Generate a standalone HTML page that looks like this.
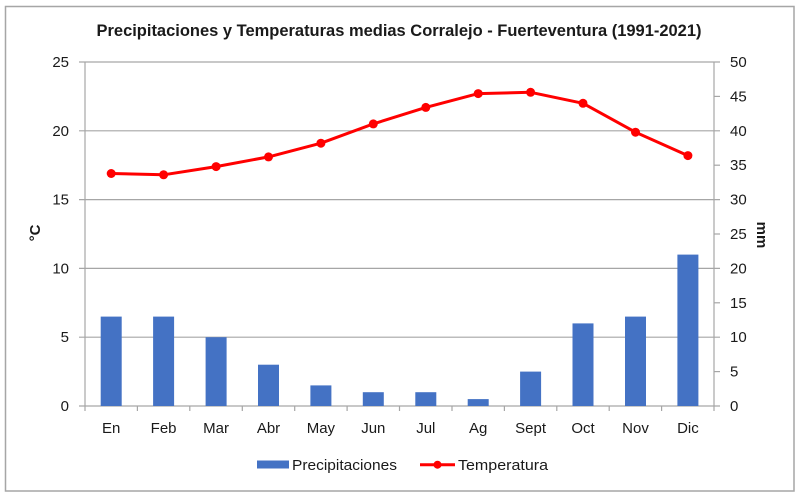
<!DOCTYPE html>
<html><head><meta charset="utf-8"><style>
html,body{margin:0;padding:0;background:#fff;}
svg{display:block;}
text{font-family:"Liberation Sans",sans-serif;fill:#1a1a1a;}
</style></head><body>
<svg width="800" height="496" viewBox="0 0 800 496" xmlns="http://www.w3.org/2000/svg">
<rect x="0" y="0" width="800" height="496" fill="#fff"/>
<rect x="5.5" y="6.5" width="788.5" height="484.5" fill="none" stroke="#A6A6A6" stroke-width="1.5"/>
<text x="399" y="36" font-size="16.5" font-weight="bold" text-anchor="middle" textLength="605" lengthAdjust="spacingAndGlyphs">Precipitaciones y Temperaturas medias Corralejo - Fuerteventura (1991-2021)</text>
<!-- gridlines -->
<g stroke="#A6A6A6" stroke-width="1.2">
<line x1="79" y1="62" x2="720" y2="62"/>
<line x1="79" y1="130.8" x2="720" y2="130.8"/>
<line x1="79" y1="199.6" x2="720" y2="199.6"/>
<line x1="79" y1="268.4" x2="720" y2="268.4"/>
<line x1="79" y1="337.2" x2="720" y2="337.2"/>
<line x1="79" y1="406" x2="720" y2="406"/>
<line x1="85" y1="62" x2="85" y2="406"/>
<line x1="714" y1="62" x2="714" y2="411"/>
<line x1="714" y1="96.4" x2="720" y2="96.4"/>
<line x1="714" y1="165.2" x2="720" y2="165.2"/>
<line x1="714" y1="234" x2="720" y2="234"/>
<line x1="714" y1="302.8" x2="720" y2="302.8"/>
<line x1="714" y1="371.6" x2="720" y2="371.6"/>
<line x1="85" y1="406" x2="85" y2="411"/>
<line x1="137.4" y1="406" x2="137.4" y2="411"/>
<line x1="189.8" y1="406" x2="189.8" y2="411"/>
<line x1="242.3" y1="406" x2="242.3" y2="411"/>
<line x1="294.7" y1="406" x2="294.7" y2="411"/>
<line x1="347.1" y1="406" x2="347.1" y2="411"/>
<line x1="399.5" y1="406" x2="399.5" y2="411"/>
<line x1="452" y1="406" x2="452" y2="411"/>
<line x1="504.4" y1="406" x2="504.4" y2="411"/>
<line x1="556.8" y1="406" x2="556.8" y2="411"/>
<line x1="609.2" y1="406" x2="609.2" y2="411"/>
<line x1="661.6" y1="406" x2="661.6" y2="411"/>
</g>
<!-- bars -->
<g fill="#4472C4">
<rect x="100.7" y="316.6" width="21" height="89.4"/>
<rect x="153.1" y="316.6" width="21" height="89.4"/>
<rect x="205.6" y="337.2" width="21" height="68.8"/>
<rect x="258" y="364.7" width="21" height="41.3"/>
<rect x="310.4" y="385.4" width="21" height="20.6"/>
<rect x="362.8" y="392.2" width="21" height="13.8"/>
<rect x="415.3" y="392.2" width="21" height="13.8"/>
<rect x="467.7" y="399.1" width="21" height="6.9"/>
<rect x="520.1" y="371.6" width="21" height="34.4"/>
<rect x="572.5" y="323.4" width="21" height="82.6"/>
<rect x="625" y="316.6" width="21" height="89.4"/>
<rect x="677.4" y="254.6" width="21" height="151.4"/>
</g>
<!-- line -->
<polyline fill="none" stroke="#FF0000" stroke-width="3" stroke-linejoin="round" points="111.2,173.5 163.6,174.8 216.1,166.6 268.5,156.9 320.9,143.2 373.3,123.9 425.8,107.4 478.2,93.6 530.6,92.3 583,103.3 635.5,132.2 687.9,155.6"/>
<g fill="#FF0000">
<circle cx="111.2" cy="173.5" r="4.5"/>
<circle cx="163.6" cy="174.8" r="4.5"/>
<circle cx="216.1" cy="166.6" r="4.5"/>
<circle cx="268.5" cy="156.9" r="4.5"/>
<circle cx="320.9" cy="143.2" r="4.5"/>
<circle cx="373.3" cy="123.9" r="4.5"/>
<circle cx="425.8" cy="107.4" r="4.5"/>
<circle cx="478.2" cy="93.6" r="4.5"/>
<circle cx="530.6" cy="92.3" r="4.5"/>
<circle cx="583" cy="103.3" r="4.5"/>
<circle cx="635.5" cy="132.2" r="4.5"/>
<circle cx="687.9" cy="155.6" r="4.5"/>
</g>
<!-- left labels -->
<g font-size="15" text-anchor="end">
<text x="69" y="67">25</text>
<text x="69" y="135.8">20</text>
<text x="69" y="204.6">15</text>
<text x="69" y="273.4">10</text>
<text x="69" y="342.2">5</text>
<text x="69" y="411">0</text>
</g>
<g font-size="15" text-anchor="start">
<text x="730" y="67">50</text>
<text x="730" y="101.4">45</text>
<text x="730" y="135.8">40</text>
<text x="730" y="170.2">35</text>
<text x="730" y="204.6">30</text>
<text x="730" y="239">25</text>
<text x="730" y="273.4">20</text>
<text x="730" y="307.8">15</text>
<text x="730" y="342.2">10</text>
<text x="730" y="376.6">5</text>
<text x="730" y="411">0</text>
</g>
<g font-size="15" text-anchor="middle">
<text x="111.2" y="433">En</text>
<text x="163.6" y="433">Feb</text>
<text x="216.1" y="433">Mar</text>
<text x="268.5" y="433">Abr</text>
<text x="320.9" y="433">May</text>
<text x="373.3" y="433">Jun</text>
<text x="425.8" y="433">Jul</text>
<text x="478.2" y="433">Ag</text>
<text x="530.6" y="433">Sept</text>
<text x="583" y="433">Oct</text>
<text x="635.5" y="433">Nov</text>
<text x="687.9" y="433">Dic</text>
</g>
<text transform="translate(40,233) rotate(-90)" font-size="15" font-weight="bold" text-anchor="middle">°C</text>
<text transform="translate(757,235) rotate(90)" font-size="15" font-weight="bold" text-anchor="middle">mm</text>
<!-- legend -->
<rect x="257" y="460.5" width="32" height="8" fill="#4472C4"/>
<text x="292" y="470" font-size="15" textLength="105" lengthAdjust="spacingAndGlyphs">Precipitaciones</text>
<line x1="420" y1="464.7" x2="455" y2="464.7" stroke="#FF0000" stroke-width="3"/>
<circle cx="437.5" cy="464.7" r="4" fill="#FF0000"/>
<text x="458" y="470" font-size="15" textLength="90" lengthAdjust="spacingAndGlyphs">Temperatura</text>
</svg>
</body></html>
